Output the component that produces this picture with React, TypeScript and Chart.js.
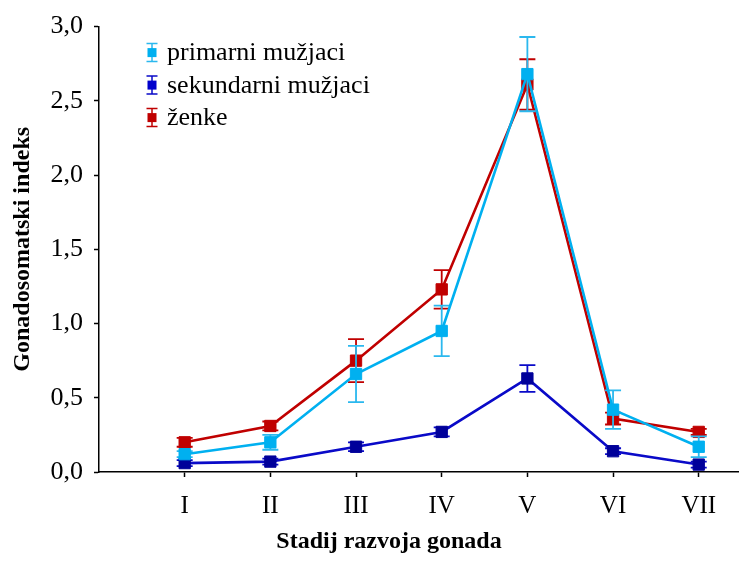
import React, { useEffect, useRef } from 'react';
import { Chart, registerables } from 'chart.js';

Chart.register(...registerables);

// Gonad development stages (x axis)
const stages = ['I', 'II', 'III', 'IV', 'V', 'VI', 'VII'];

// Mean gonadosomatic index per stage and its error
const primarni = [0.12, 0.2, 0.66, 0.95, 2.68, 0.42, 0.17];
const primarniErr = [0.02, 0.05, 0.19, 0.17, 0.25, 0.13, 0.07];

const sekundarni = [0.06, 0.07, 0.17, 0.27, 0.63, 0.14, 0.05];
const sekundarniErr = [0.02, 0.02, 0.03, 0.03, 0.09, 0.02, 0.02];

const zenke = [0.2, 0.31, 0.75, 1.23, 2.61, 0.36, 0.27];
const zenkeErr = [0.03, 0.03, 0.145, 0.13, 0.17, 0.04, 0.02];

const seriesNames = ['primarni mužjaci', 'sekundarni mužjaci', 'ženke'];

const yTicks = [0, 0.5, 1, 1.5, 2, 2.5, 3];

const SERIF = "'Liberation Serif', 'Times New Roman', serif";

const CYAN = '#00B0F0';
const NAVY_LINE = '#0A0AC8';
const NAVY_MARK = '#00009A';
const RED = '#C00000';

const toPoints = (vals: number[]) => vals.map((v, i) => ({ x: i + 1, y: v }));

// Vertical error bars with caps, drawn just before each dataset's line and markers
const errorBarPlugin = {
  id: 'errorBars',
  beforeDatasetDraw(chart: any, args: any) {
    const ds = chart.data.datasets[args.index];
    const errs: number[] = ds.errors;
    if (!errs) return;
    const { ctx } = chart;
    const yScale = chart.scales.y;
    ctx.save();
    ctx.strokeStyle = ds.errorColor;
    ctx.lineWidth = 1.8;
    args.meta.data.forEach((pt: any, i: number) => {
      const v = ds.data[i].y;
      const e = errs[i];
      const x = pt.x;
      const yTop = yScale.getPixelForValue(v + e);
      const yBot = yScale.getPixelForValue(v - e);
      const cap = 8;
      ctx.beginPath();
      ctx.moveTo(x, yTop);
      ctx.lineTo(x, yBot);
      ctx.moveTo(x - cap, yTop);
      ctx.lineTo(x + cap, yTop);
      ctx.moveTo(x - cap, yBot);
      ctx.lineTo(x + cap, yBot);
      ctx.stroke();
    });
    ctx.restore();
  },
};

// Legend with error-bar symbols, plus the x-axis title
const decorPlugin = {
  id: 'decor',
  afterDraw(chart: any) {
    const { ctx, chartArea } = chart;
    ctx.save();
    const iconX = chartArea.left + 53;
    const textX = chartArea.left + 68;
    const rowTop = chartArea.top + 26;
    const rowGap = 32.5;
    ctx.font = `26px ${SERIF}`;
    ctx.textBaseline = 'middle';
    ctx.textAlign = 'left';
    chart.data.datasets.forEach((ds: any, i: number) => {
      const cy = rowTop + i * rowGap;
      ctx.strokeStyle = ds.errorColor;
      ctx.lineWidth = 1.5;
      ctx.beginPath();
      ctx.moveTo(iconX, cy - 9);
      ctx.lineTo(iconX, cy + 9);
      ctx.moveTo(iconX - 5.5, cy - 9);
      ctx.lineTo(iconX + 5.5, cy - 9);
      ctx.moveTo(iconX - 5.5, cy + 9);
      ctx.lineTo(iconX + 5.5, cy + 9);
      ctx.stroke();
      ctx.fillStyle = ds.legendColor;
      ctx.fillRect(iconX - 4.5, cy - 4.5, 9, 9);
      ctx.fillStyle = '#000';
      ctx.fillText(ds.label, textX, cy + 1);
    });

    // x-axis title
    ctx.font = `bold 24px ${SERIF}`;
    ctx.textAlign = 'center';
    ctx.textBaseline = 'middle';
    ctx.fillStyle = '#000';
    ctx.fillText('Stadij razvoja gonada', (chartArea.left + chartArea.right) / 2 - 30, 542);
    ctx.restore();
  },
};

export default function App() {
  const canvasRef = useRef<HTMLCanvasElement | null>(null);

  useEffect(() => {
    if (!canvasRef.current) return;
    const chart = new Chart(canvasRef.current, {
      type: 'line',
      data: {
        datasets: [
          {
            label: seriesNames[0],
            data: toPoints(primarni),
            errors: primarniErr,
            errorColor: '#2BB8EE',
            legendColor: CYAN,
            borderColor: CYAN,
            backgroundColor: CYAN,
            pointBackgroundColor: CYAN,
            pointBorderColor: CYAN,
          },
          {
            label: seriesNames[1],
            data: toPoints(sekundarni),
            errors: sekundarniErr,
            errorColor: NAVY_LINE,
            legendColor: '#0000CC',
            borderColor: NAVY_LINE,
            backgroundColor: NAVY_MARK,
            pointBackgroundColor: NAVY_MARK,
            pointBorderColor: NAVY_MARK,
          },
          {
            label: seriesNames[2],
            data: toPoints(zenke),
            errors: zenkeErr,
            errorColor: RED,
            legendColor: RED,
            borderColor: RED,
            backgroundColor: RED,
            pointBackgroundColor: RED,
            pointBorderColor: RED,
          },
        ] as any,
      },
      options: {
        animation: false,
        responsive: false,
        maintainAspectRatio: false,
        layout: { autoPadding: false, padding: { top: 24, right: 0, bottom: 0, left: 0 } },
        elements: {
          line: { borderWidth: 2.6, tension: 0 },
          point: { pointStyle: 'rect', radius: 8, borderWidth: 1, hoverRadius: 8 },
        },
        plugins: {
          legend: { display: false },
          tooltip: { enabled: false },
        },
        scales: {
          x: {
            type: 'linear',
            position: 'bottom',
            min: 0,
            max: 7.47,
            afterFit: (s: any) => {
              s.height = 91;
            },
            border: { display: true, color: '#000', width: 1.5 },
            grid: {
              display: true,
              drawOnChartArea: false,
              drawTicks: true,
              tickLength: 5,
              color: '#000',
              tickColor: (c: any) => (c.tick && c.tick.value === 0 ? 'rgba(0,0,0,0)' : '#000'),
              tickWidth: 1.5,
            },
            ticks: {
              stepSize: 1,
              includeBounds: false,
              autoSkip: false,
              maxRotation: 0,
              padding: 14,
              color: '#000',
              font: { family: SERIF, size: 25 },
              callback: (v: any) => stages[Number(v) - 1] ?? '',
            },
          },
          y: {
            type: 'linear',
            min: 0,
            max: 3,
            afterFit: (s: any) => {
              s.width = 99;
            },
            afterBuildTicks: (s: any) => {
              s.ticks = yTicks.map((v) => ({ value: v }));
            },
            border: { display: true, color: '#000', width: 1.5 },
            grid: {
              display: true,
              drawOnChartArea: false,
              drawTicks: true,
              tickLength: 5,
              color: '#000',
              tickWidth: 1.5,
            },
            ticks: {
              padding: 11,
              color: '#000',
              font: { family: SERIF, size: 26 },
              callback: (v: any) => Number(v).toFixed(1).replace('.', ','),
            },
            title: {
              display: true,
              text: 'Gonadosomatski indeks',
              color: '#000',
              font: { family: SERIF, size: 24, weight: 'bold' },
              padding: { top: 8, bottom: 0 },
            },
          },
        },
      },
      plugins: [errorBarPlugin, decorPlugin],
    } as any);
    return () => chart.destroy();
  }, []);

  return (
    <div style={{ position: 'absolute', left: 0, top: 0, width: 739, height: 563, background: '#fff' }}>
      <canvas ref={canvasRef} width={739} height={563} style={{ display: 'block' }} />
    </div>
  );
}
